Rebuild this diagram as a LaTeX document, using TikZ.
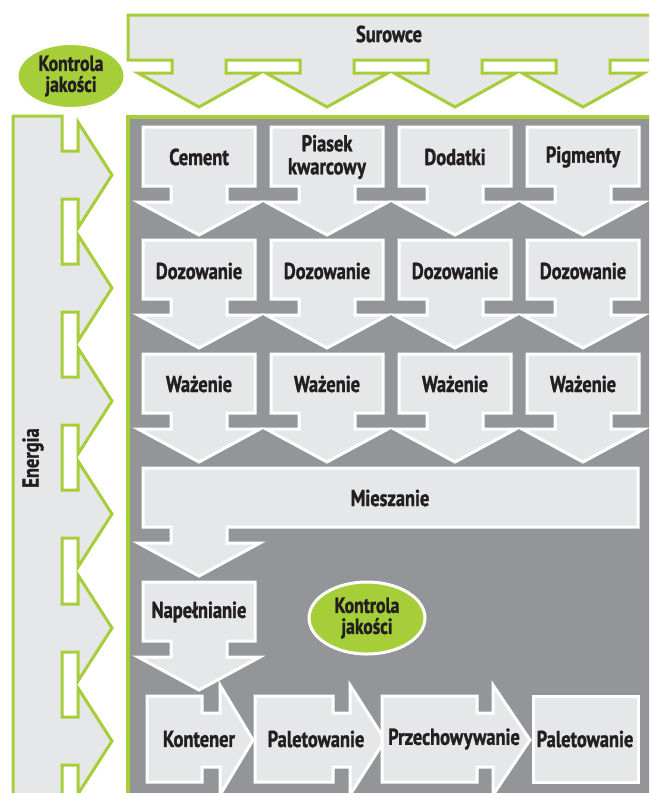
\documentclass[tikz,border=0pt]{standalone}
\usepackage{fontspec}
\setmainfont{PT Sans}[FakeStretch=0.8, BoldFeatures={FakeBold=1.3}]
\usetikzlibrary{shapes.geometric}

\definecolor{limegreen}{HTML}{A6CE39}
\definecolor{panelgray}{HTML}{939598}
\definecolor{boxgray}{HTML}{E6E7E8}
\definecolor{inktext}{HTML}{231F20}

\tikzset{
  greenshape/.style={fill=boxgray, draw=limegreen, line width=3pt},
  boxarrow/.style={fill=boxgray, draw=white, line width=3pt},
  lbl/.style={font=\bfseries\fontsize{23}{23}\selectfont, text=inktext, align=center, inner sep=0pt},
  kontrola/.style={ellipse, fill=limegreen, draw=white, line width=3pt, inner sep=0pt,
    font=\bfseries\fontsize{22}{21}\selectfont, text=inktext, align=center}
}

% down arrow: centre x, top y
\newcommand{\downbox}[2]{%
  \draw[boxarrow] ({#1-56},#2) -- ({#1+56},#2) -- ({#1+56},{#2+59}) -- ({#1+28},{#2+59})
    -- ({#1+28},{#2+75}) -- ({#1+61},{#2+75}) -- (#1,{#2+108}) -- ({#1-61},{#2+75})
    -- ({#1-28},{#2+75}) -- ({#1-28},{#2+59}) -- ({#1-56},{#2+59}) -- cycle;}
% right arrow: left x, shaft x, head x, tip x
\newcommand{\rightbox}[4]{%
  \draw[boxarrow] (#1,696) -- (#2,696) -- (#2,713) -- (#3,713) -- (#3,685) -- (#4,740)
    -- (#3,795) -- (#3,767) -- (#2,767) -- (#2,782) -- (#1,782) -- cycle;}

\begin{document}
\begin{tikzpicture}[x=1pt,y=-1pt]
\clip (0,0) rectangle (649,793);
\fill[white] (0,0) rectangle (649,793);

% grey panel
\draw[fill=panelgray, draw=limegreen, line width=4.5pt] (128,117) rectangle (670,820);

% raw materials arrow
\draw[greenshape] (128,15) -- (670,15) -- (670,60)
  \foreach \c in {583,455,327,199} {
    -- ({\c+27},60) -- ({\c+27},73) -- ({\c+61},73) -- (\c,107)
    -- ({\c-61},73) -- ({\c-27},73) -- ({\c-27},60) }
  -- (128,60) -- cycle;
\node[lbl] (surowce) at (389,34) {Surowce};

% energy arrow
\draw[greenshape] (13,116) -- (62,116)
  \foreach \c in {175,288,401,514,628,741} {
    -- (62,{\c-24}) -- (78,{\c-24}) -- (78,{\c-53}) -- (112,\c)
    -- (78,{\c+53}) -- (78,{\c+24}) -- (62,{\c+24}) }
  -- (62,820) -- (13,820) -- cycle;
\node[lbl, rotate=90] (energia) at (33,458) {Energia};

\node[kontrola, minimum width=108pt, minimum height=65pt] (kontrolaA) at (71,76) {Kontrola\\jakości};

% raw materials
\foreach \c/\n/\t in {199/a/Cement,327/b/{Piasek\\kwarcowy},455/c/Dodatki,583/d/Pigmenty} {
  \downbox{\c}{127}
  \node[lbl] (surowiec\n) at (\c,157) {\t};
}
\foreach \c/\n in {199/a,327/b,455/c,583/d} {
  \downbox{\c}{240}
  \node[lbl] (doz\n) at (\c,271) {Dozowanie};
  \downbox{\c}{354}
  \node[lbl] (waz\n) at (\c,384) {Ważenie};
}

% mixing
\draw[boxarrow] (143,468) -- (638,468) -- (638,527) -- (227,527) -- (227,543) -- (260,543)
  -- (199,576) -- (138,543) -- (171,543) -- (171,527) -- (143,527) -- cycle;
\node[lbl] (mieszanie) at (390,498) {Mieszanie};

\downbox{199}{582}
\node[lbl] (napelnianie) at (199,612) {Napełnianie};

\node[kontrola, minimum width=116pt, minimum height=72pt] (kontrolaB) at (367,618) {Kontrola\\jakości};

% packing line
\rightbox{147}{202}{220}{253}
\node[lbl] (kontener) at (199,739) {Kontener};
\rightbox{255}{333}{350}{385}
\node[lbl] (paletA) at (316,739) {Paletowanie};
\rightbox{382}{477}{493}{530}
\node[lbl] (przech) at (454,739) {Przechowywanie};
\draw[boxarrow] (533,696) rectangle (638,782);
\node[lbl] (paletB) at (585,739) {Paletowanie};
\end{tikzpicture}
\end{document}
